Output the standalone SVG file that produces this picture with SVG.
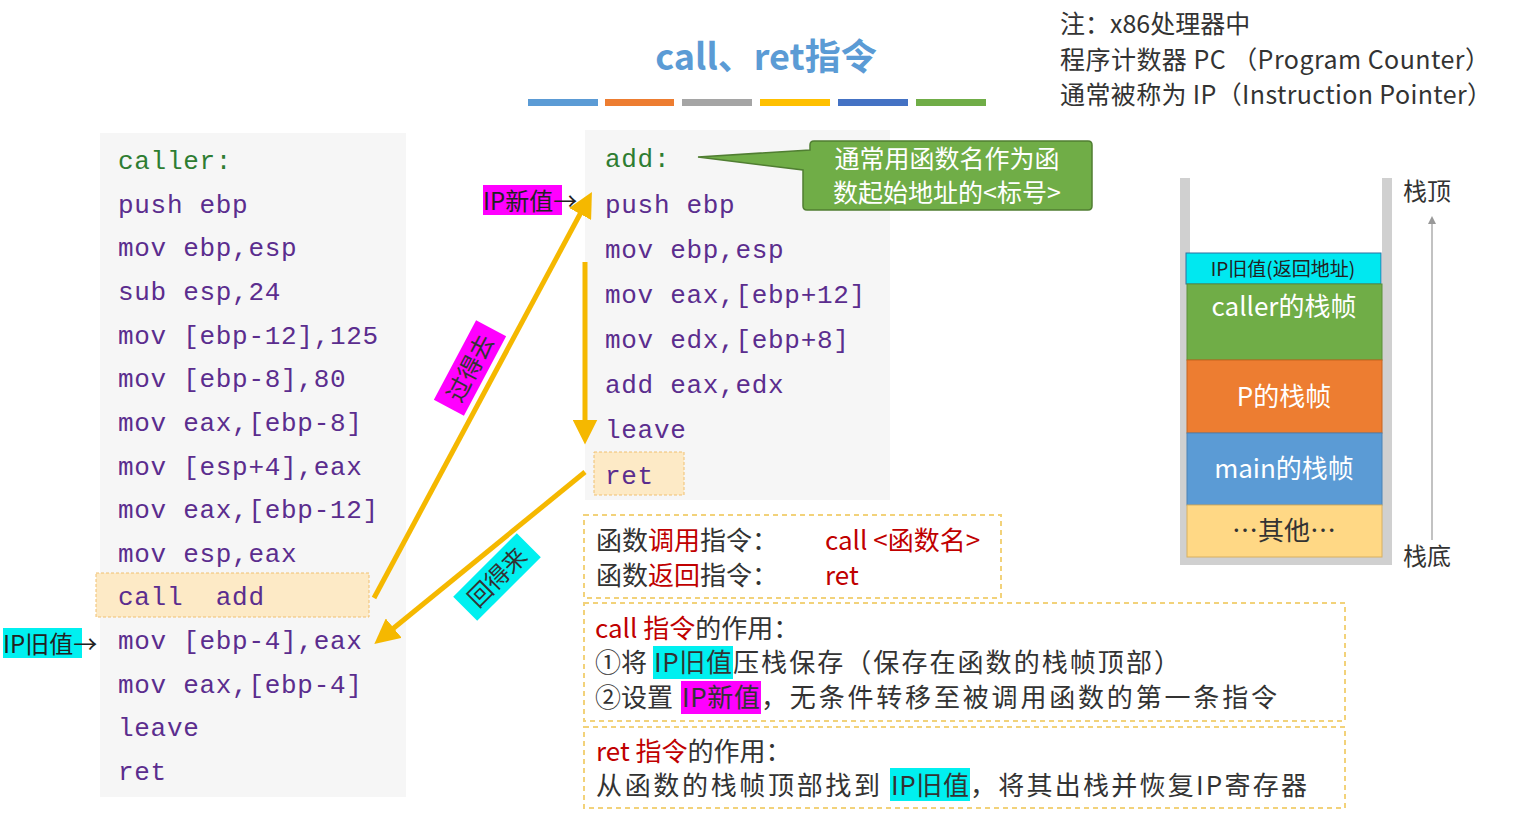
<svg xmlns="http://www.w3.org/2000/svg" width="1518" height="815" viewBox="0 0 1518 815">
<defs>
<style>
.code{font-family:"Liberation Mono","DejaVu Sans Mono",monospace;font-size:26px;letter-spacing:0.7px;fill:#5b2d8e}
.lbl{fill:#2e7d32}
.cn{font-family:"Noto Sans CJK SC","Noto Sans",sans-serif}
.note{font-family:"Noto Sans CJK SC",sans-serif;font-size:24px;fill:#333}
.yel{stroke:#f5b800;stroke-width:5;fill:none}
.dash{fill:#fff;stroke:#f2d27a;stroke-width:2;stroke-dasharray:5 4}
.red{fill:#c00000}
.body{font-family:"Noto Sans CJK SC",sans-serif;font-size:26px;fill:#333}
.stk{font-family:"Noto Sans CJK SC",sans-serif;font-size:26px;fill:#fff;text-anchor:middle}
</style>
<marker id="ya" markerWidth="5" markerHeight="5" refX="2.5" refY="2.5" orient="auto" markerUnits="strokeWidth"><path d="M0,0L5,2.5L0,5z" fill="#f5b800"/></marker>
<marker id="ga" markerWidth="8" markerHeight="8" refX="4" refY="4" orient="auto" markerUnits="userSpaceOnUse"><path d="M0,0L8,4L0,8z" fill="#999"/></marker>
</defs>
<rect width="1518" height="815" fill="#fff"/>
<g id="title">
<text x="766" y="70" text-anchor="middle" class="cn" font-size="36" font-weight="bold" fill="#5b9bd5">call、ret指令</text>
<rect x="528" y="99" width="70" height="7" fill="#5b9bd5"/>
<rect x="605" y="99" width="69" height="7" fill="#ed7d31"/>
<rect x="682" y="99" width="70" height="7" fill="#a5a5a5"/>
<rect x="760" y="99" width="70" height="7" fill="#ffc000"/>
<rect x="838" y="99" width="70" height="7" fill="#4472c4"/>
<rect x="916" y="99" width="70" height="7" fill="#70ad47"/>
</g>
<g id="note" class="note">
<text x="1060" y="33" font-size="25">注：x86处理器中</text>
<text x="1060" y="69" font-size="25" textLength="430">程序计数器 PC （Program Counter）</text>
<text x="1060" y="104" font-size="25" textLength="432">通常被称为 IP（Instruction Pointer）</text>
</g>
<g id="caller">
<rect x="100" y="133" width="306" height="664" fill="#f6f6f6"/>
<rect x="96" y="573" width="273" height="44" fill="#fdeac6" stroke="#f0c070" stroke-dasharray="3 2"/>
<g class="code">
<text x="118" y="169" class="lbl">caller:</text>
<text x="118" y="213">push ebp</text>
<text x="118" y="256">mov ebp,esp</text>
<text x="118" y="300">sub esp,24</text>
<text x="118" y="344">mov [ebp-12],125</text>
<text x="118" y="387">mov [ebp-8],80</text>
<text x="118" y="431">mov eax,[ebp-8]</text>
<text x="118" y="475">mov [esp+4],eax</text>
<text x="118" y="518">mov eax,[ebp-12]</text>
<text x="118" y="562">mov esp,eax</text>
<text x="118" y="605">call&#160; add</text>
<text x="118" y="649">mov [ebp-4],eax</text>
<text x="118" y="693">mov eax,[ebp-4]</text>
<text x="118" y="736">leave</text>
<text x="118" y="780">ret</text>
</g>
</g>
<g id="add">
<rect x="585" y="130" width="305" height="370" fill="#f6f6f6"/>
<rect x="594" y="452" width="90" height="43" fill="#fdeac6" stroke="#f0c070" stroke-dasharray="3 2"/>
<g class="code">
<text x="605" y="167" class="lbl">add:</text>
<text x="605" y="213">push ebp</text>
<text x="605" y="258">mov ebp,esp</text>
<text x="605" y="303">mov eax,[ebp+12]</text>
<text x="605" y="348">mov edx,[ebp+8]</text>
<text x="605" y="393">add eax,edx</text>
<text x="605" y="438">leave</text>
<text x="605" y="484">ret</text>
</g>
</g>
<g id="callout">
<path d="M698,157 L810,150 L810,145 Q810,141 814,141 L1088,141 Q1092,141 1092,145 L1092,206 Q1092,210 1088,210 L807,210 Q803,210 803,206 L803,170 Z" fill="#70ad47" stroke="#507e32" stroke-width="1.5"/>
<text x="947" y="168" text-anchor="middle" class="cn" font-size="25" fill="#fff">通常用函数名作为函</text>
<text x="947" y="202" text-anchor="middle" class="cn" font-size="25" fill="#fff">数起始地址的&lt;标号&gt;</text>
</g>
<g id="connectors">
<line x1="374" y1="598" x2="586" y2="203" class="yel" marker-end="url(#ya)"/>
<line x1="585" y1="262" x2="585" y2="432" class="yel" marker-end="url(#ya)"/>
<line x1="585" y1="472" x2="384" y2="636" class="yel" marker-end="url(#ya)"/>
<line x1="1432" y1="540" x2="1432" y2="220" stroke="#999" stroke-width="1.2" marker-end="url(#ga)"/>
</g>
<g id="lbl-go" transform="translate(470,368) rotate(-62)">
<rect x="-45" y="-17" width="90" height="34" fill="#ff00ff"/>
<text x="0" y="9" text-anchor="middle" class="cn" font-size="24" fill="#333">过得去</text>
</g>
<g id="lbl-back" transform="translate(497,577) rotate(-45)">
<rect x="-45" y="-17" width="90" height="34" fill="#00f0f0"/>
<text x="0" y="9" text-anchor="middle" class="cn" font-size="24" fill="#333">回得来</text>
</g>
<g id="ip-new">
<rect x="483" y="185" width="79" height="30" fill="#ff00ff"/>
<text x="483" y="210" class="cn" font-size="24" fill="#222">IP新值→</text>
</g>
<g id="ip-old">
<rect x="3" y="628" width="79" height="30" fill="#00f0f0"/>
<text x="3" y="653" class="cn" font-size="24" fill="#222">IP旧值→</text>
</g>
<g id="stack">
<rect x="1180" y="178" width="10" height="387" fill="#d0d0d0"/>
<rect x="1382" y="178" width="10" height="387" fill="#d0d0d0"/>
<rect x="1180" y="557" width="212" height="8" fill="#d0d0d0"/>
<rect x="1186" y="253" width="195" height="31" fill="#00e8f0" stroke="#2f6fa0"/>
<text x="1283" y="276" text-anchor="middle" class="cn" font-size="19" fill="#222">IP旧值(返回地址)</text>
<rect x="1187" y="284" width="195" height="76" fill="#70ad47" stroke="#5a8f38"/>
<text x="1284" y="316" class="stk">caller的栈帧</text>
<rect x="1187" y="360" width="195" height="73" fill="#ed7d31" stroke="#c8651f"/>
<text x="1284" y="406" class="stk">P的栈帧</text>
<rect x="1187" y="433" width="195" height="72" fill="#5b9bd5" stroke="#4a82b5"/>
<text x="1284" y="478" class="stk">main的栈帧</text>
<rect x="1187" y="505" width="195" height="52" fill="#ffd885" stroke="#d8b060"/>
<text x="1284" y="540" class="stk" style="fill:#333">…其他…</text>
<text x="1403" y="200" class="note" font-size="26">栈顶</text>
<text x="1403" y="565" class="note" font-size="26">栈底</text>
</g>
<g id="box1">
<rect x="584" y="515" width="417" height="83" class="dash"/>
<text x="596" y="550" class="body">函数<tspan class="red">调用</tspan>指令：</text>
<text x="825" y="550" class="body" font-size="25"><tspan class="red">call &lt;函数名&gt;</tspan></text>
<text x="596" y="585" class="body">函数<tspan class="red">返回</tspan>指令：</text>
<text x="825" y="585" class="body" font-size="25"><tspan class="red">ret</tspan></text>
</g>
<g id="box2">
<rect x="584" y="603" width="761" height="118" class="dash"/>
<rect x="653" y="646" width="80" height="33" fill="#00f0f0"/>
<rect x="681" y="681" width="80" height="33" fill="#ff00ff"/>
<text x="595" y="638" class="body"><tspan class="red">call 指令</tspan>的作用：</text>
<text x="595" y="672" class="body">①将</text>
<text x="654" y="672" class="body" textLength="78">IP旧值</text>
<text x="733" y="672" class="body" textLength="447">压栈保存（保存在函数的栈帧顶部）</text>
<text x="595" y="707" class="body">②设置</text>
<text x="682" y="707" class="body" textLength="78">IP新值</text>
<text x="761" y="707" class="body" textLength="516">，无条件转移至被调用函数的第一条指令</text>
</g>
<g id="box3">
<rect x="584" y="727" width="761" height="81" class="dash"/>
<rect x="890" y="768" width="80" height="33" fill="#00f0f0"/>
<text x="596" y="761" class="body"><tspan class="red">ret 指令</tspan>的作用：</text>
<text x="596" y="795" class="body" textLength="284">从函数的栈帧顶部找到</text>
<text x="891" y="795" class="body" textLength="78">IP旧值</text>
<text x="970" y="795" class="body" textLength="337">，将其出栈并恢复IP寄存器</text>
</g>
</svg>
